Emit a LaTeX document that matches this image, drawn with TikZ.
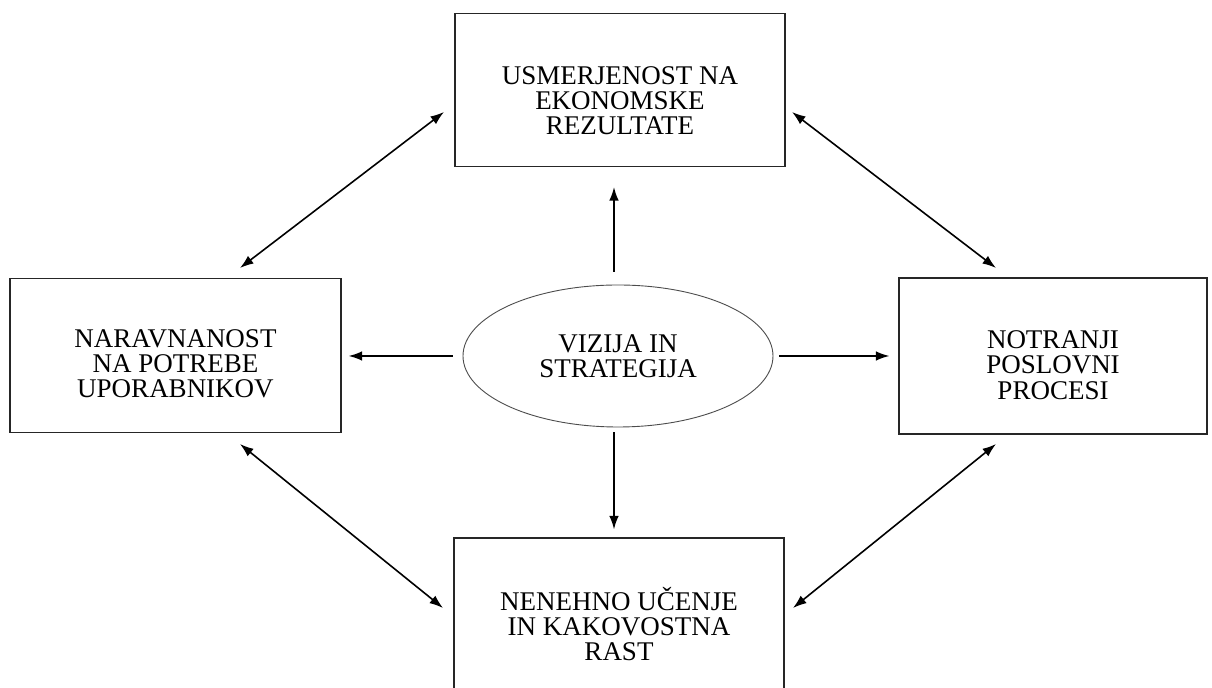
\documentclass[tikz,border=0pt]{standalone}
\usepackage{fontspec}
\setmainfont{Liberation Serif}
\usepackage{tikz}
\usetikzlibrary{shapes}
\usetikzlibrary{arrows.meta}
\tikzset{>={Latex[width=4.8pt,length=6.8pt]}}

\begin{document}
\begin{tikzpicture}[x=0.5pt, y=-0.5pt]
          \tikzstyle{pbox} = [draw=black!85, line width=0.55pt, rectangle, inner sep = 0pt]
          \tikzstyle{ptext} = [inner sep = 0pt, align=center, font=\fontsize{13.5}{12.6}\selectfont]
          \tikzstyle{vnode} = [draw=black!70, line width=0.45pt, ellipse, inner sep = 0pt, align=center,
                               minimum width=155pt, minimum height=71pt, font=\fontsize{13.5}{12.6}\selectfont]
          \tikzstyle{link} = [line width=0.8pt, <->]
          \tikzstyle{dir} = [line width=0.8pt, ->]
          \useasboundingbox (0,0) rectangle (1212,688);

          % perspektive
          \node[pbox, minimum width=165pt, minimum height=76.5pt] (usmer) at (620, 90) {};
          \node[pbox, minimum width=165.5pt, minimum height=77pt] (narav) at (175.5, 355.5) {};
          \node[pbox, minimum width=154pt, minimum height=78pt] (notr) at (1053, 356) {};
          \node[pbox, minimum width=165pt, minimum height=77pt] (ucenje) at (619, 615) {};

          \node[ptext] (usmer-t) at (620, 101) {USMERJENOST NA\\EKONOMSKE\\REZULTATE};
          \node[ptext] (narav-t) at (175.5, 364) {NARAVNANOST\\NA POTREBE\\UPORABNIKOV};
          \node[ptext] (notr-t) at (1053, 365) {NOTRANJI\\POSLOVNI\\PROCESI};
          \node[ptext] (ucenje-t) at (619, 624) {NENEHNO UČENJE\\IN KAKOVOSTNA\\RAST};

          % sredina
          \node[vnode] (vis) at (618, 356) {VIZIJA IN\\STRATEGIJA};

          \coordinate (tl1) at (240, 268);
          \coordinate (tl2) at (444, 112);
          \coordinate (tr1) at (792, 112);
          \coordinate (tr2) at (996, 268);
          \coordinate (bl1) at (240, 444);
          \coordinate (bl2) at (443, 608);
          \coordinate (br1) at (793, 608);
          \coordinate (br2) at (996, 444);

          \draw[dir, shorten <=6.5pt, shorten >=10pt] (vis.north -| 614, 0) to (usmer.south -| 614, 0);
          \draw[dir, shorten <=2.5pt, shorten >=4pt] (vis.south -| 614, 0) to (ucenje.north -| 614, 0);
          \draw[dir, shorten <=5pt, shorten >=3.5pt] (vis.west) to (narav.east |- vis.west);
          \draw[dir, shorten <=3pt, shorten >=4.5pt] (vis.east) to (notr.west |- vis.east);

          \draw[link] (tl1) to (tl2);
          \draw[link] (tr1) to (tr2);
          \draw[link] (bl1) to (bl2);
          \draw[link] (br1) to (br2);
        \end{tikzpicture}
\end{document}
